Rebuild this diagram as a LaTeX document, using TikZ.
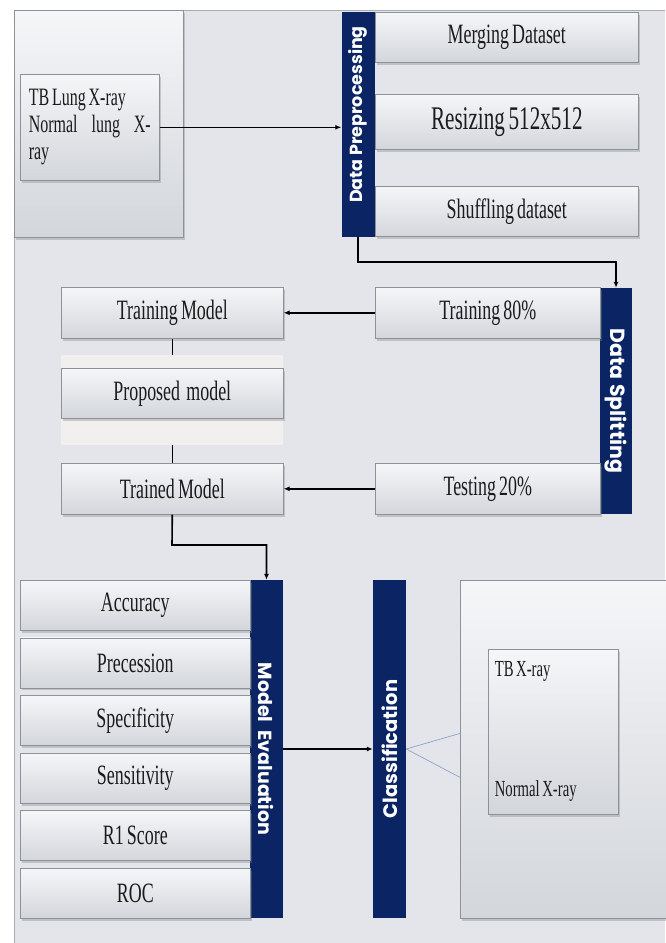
\documentclass[tikz,border=0pt]{standalone}
\usepackage{fontspec}
\setmainfont{Liberation Serif}[FakeStretch=0.64,WordSpace=0.7]
\newfontfamily\barfont{Poppins}
\usepackage{tikz}
\usetikzlibrary{arrows.meta,positioning,calc,shadows}
\usepackage{xcolor}
\definecolor{BarNavy}{HTML}{0B2463}
\definecolor{PanelGrey}{HTML}{E3E5EA}
\definecolor{PanelLine}{HTML}{A9ACB2}
\definecolor{BoxTop}{HTML}{F5F6F8}
\definecolor{BoxBottom}{HTML}{D3D6DB}
\definecolor{BoxLine}{HTML}{8D9299}
\definecolor{BandWhite}{HTML}{F2F0EF}
\definecolor{LinkBlue}{HTML}{8FA3C8}
\definecolor{Ink}{HTML}{1B1B1B}

\begin{document}
\begin{tikzpicture}[x=1pt,y=-1pt,>={Latex[length=6pt,width=5pt]},
  box/.style={draw=BoxLine,line width=.6pt,top color=BoxTop,bottom color=BoxBottom,
    drop shadow={opacity=.35,shadow xshift=1.5pt,shadow yshift=-2.5pt},
    anchor=north west,inner sep=0pt,text=Ink,font=\fontsize{28}{30}\selectfont},
  bar/.style={fill=BarNavy,inner sep=0pt,text=white,
    font=\barfont\bfseries\fontsize{19}{21}\selectfont},
  link/.style={->,line width=1.6pt,black},
  plainlink/.style={line width=1.6pt,black},
  thinlink/.style={LinkBlue,line width=.7pt}]
  \useasboundingbox (0,0) rectangle (665,943);
  % The grey panel that holds the whole pipeline.
  \fill[PanelGrey] (14,10) rectangle (665,943);
  \draw[PanelLine,line width=1pt] (14,943) -- (14,10) -- (665,10);

  % Input images and the preprocessing steps.
  \node[box,minimum width=169pt,minimum height=227pt] (srcpanel) at (14,10) {};
  \node[box,minimum width=139pt,minimum height=106pt,text width=122pt,align=flush left,
    font=\fontsize{25}{27}\selectfont] (inbox) at (20,74)
    {TB Lung X-ray\\Normal\hfill lung\hfill X-\\ray};
  \node[bar,rotate=90,minimum width=225pt,minimum height=33pt,
    font=\barfont\bfseries\fontsize{17.5}{19}\selectfont] (prep) at (358,124.5)
    {\hspace*{20pt}Data Preprocessing};
  \node[box,minimum width=263pt,minimum height=50pt] (merge) at (375,12) {Merging Dataset};
  \node[box,minimum width=263pt,minimum height=55pt,font=\fontsize{33}{35}\selectfont]
    (resize) at (375,94) {Resizing 512x512};
  \node[box,minimum width=263pt,minimum height=50pt] (shuffle) at (375,186) {Shuffling dataset};

  % Splitting into training and testing sets.
  \node[bar,rotate=-90,minimum width=226pt,minimum height=32pt,
    font=\barfont\bfseries\fontsize{20.5}{22}\selectfont] (split) at (616,401)
    {Data Splitting};
  \node[box,minimum width=225pt,minimum height=51pt] (train80) at (375,287) {Training 80\%};
  \node[box,minimum width=225pt,minimum height=51pt] (test20) at (375,463) {Testing 20\%};
  \node[box,minimum width=222pt,minimum height=51pt] (trainmod) at (61,287) {Training Model};
  \node[fill=BandWhite,anchor=north west,minimum width=222pt,minimum height=90pt,inner sep=0pt]
    (band) at (61,355) {};
  \node[box,minimum width=222pt,minimum height=50pt] (proposed) at (61,368) {Proposed\ \ model};
  \node[box,minimum width=222pt,minimum height=51pt] (trained) at (61,463) {Trained Model};

  % Evaluation metrics and the two output classes.
  \node[bar,rotate=-90,minimum width=338pt,minimum height=33pt] (eval) at (266.5,749)
    {Model\ \ Evaluation};
  \foreach \metric [count=\i] in {Accuracy,Precession,Specificity,Sensitivity,R1 Score,ROC}
    \node[box,minimum width=230pt,minimum height=50pt] (metric\i) at (20,{580+57.6*(\i-1)}) {\metric};
  \node[bar,rotate=90,minimum width=338pt,minimum height=33pt,
    font=\barfont\bfseries\fontsize{19.5}{21}\selectfont] (class) at (389.5,749)
    {Classification};
  \node[box,minimum width=206pt,minimum height=338pt] (result) at (460,580) {};
  \node[box,minimum width=130pt,minimum height=165pt,text width=117pt,align=flush left,
    font=\fontsize{23}{26}\selectfont] (labels) at (488,649) {TB X-ray\\[94pt]Normal X-ray};

  % Connectors.
  \coordinate (bend1) at (358,262);
  \coordinate (bend2) at (172,545);
  \draw[link] (inbox.east) -- (inbox.east -| prep.north);
  \draw[link] (prep.west) -- (bend1) -| (split.west);
  \draw[link] (train80.west) -- (trainmod.east);
  \draw[link] (test20.west) -- (trained.east);
  \draw[plainlink] (trainmod.south) -- (trainmod.south |- band.north);
  \draw[plainlink] (band.south -| trained.north) -- (trained.north);
  \draw[link] (trained.south) -- (bend2) -| (eval.west);
  \draw[link] (eval.north) -- (class.north);
  \draw[thinlink] (class.south) -- ($(result.north west)!0.453!(result.south west)$);
  \draw[thinlink] (class.south) -- ($(result.north west)!0.583!(result.south west)$);
\end{tikzpicture}
\end{document}
